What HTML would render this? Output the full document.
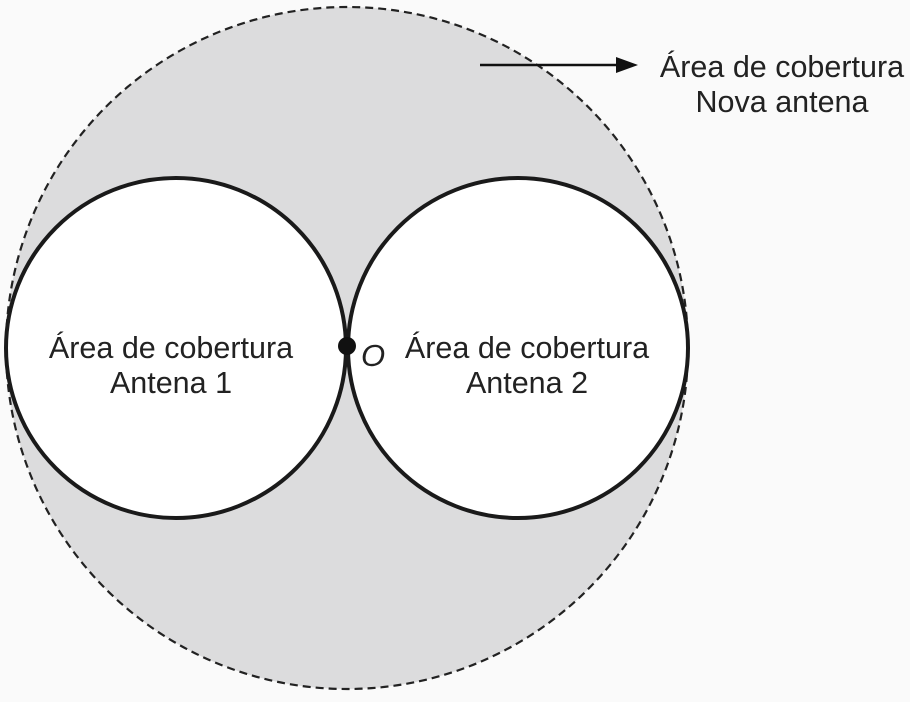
<!DOCTYPE html>
<html><head><meta charset="utf-8"><style>
html,body{margin:0;padding:0;background:#fafafa;}
svg{display:block;}
text{font-family:"Liberation Sans",Arial,sans-serif;font-size:30.5px;fill:#222;}
</style></head><body>
<svg width="910" height="702" viewBox="0 0 910 702" xmlns="http://www.w3.org/2000/svg">
<rect width="910" height="702" fill="#fafafa"/>
<circle cx="347" cy="348" r="341" fill="#dcdcdd" stroke="#222" stroke-width="2.2" stroke-dasharray="8,5"/>
<circle cx="176" cy="348" r="170" fill="#fff" stroke="#1a1a1a" stroke-width="4"/>
<circle cx="518" cy="348" r="170" fill="#fff" stroke="#1a1a1a" stroke-width="4"/>
<circle cx="347" cy="346" r="9" fill="#111"/>
<text x="361" y="366" style="font-style:italic;font-size:31px">O</text>
<text x="171" y="358" text-anchor="middle">Área de cobertura</text>
<text x="171" y="393" text-anchor="middle">Antena 1</text>
<text x="527" y="358" text-anchor="middle">Área de cobertura</text>
<text x="527" y="393" text-anchor="middle">Antena 2</text>
<line x1="480" y1="65" x2="622" y2="65" stroke="#111" stroke-width="2.5"/>
<polygon points="638,65 616,57 616,73" fill="#111"/>
<text x="782" y="77" text-anchor="middle">Área de cobertura</text>
<text x="782" y="112" text-anchor="middle">Nova antena</text>
</svg>
</body></html>
